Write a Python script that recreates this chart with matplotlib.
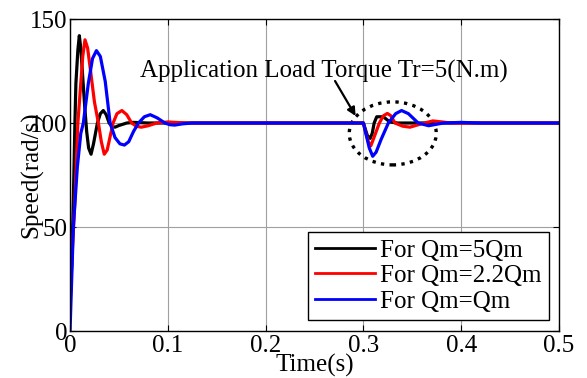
import numpy as np
import matplotlib
matplotlib.use('Agg')
import matplotlib.pyplot as plt
from matplotlib.patches import Ellipse

plt.rcParams['font.family'] = ['Liberation Serif', 'DejaVu Serif']

# speed response (time in s, speed in rad/s)
t_black = [0, 0.0017, 0.0034, 0.005, 0.006, 0.008, 0.0095, 0.011, 0.013, 0.015, 0.017,
           0.019, 0.0215, 0.024, 0.028, 0.031, 0.034, 0.037, 0.040, 0.043, 0.046,
           0.050, 0.058, 0.065, 0.08, 0.3, 0.302, 0.304, 0.3069, 0.309, 0.311,
           0.3136, 0.3204, 0.327, 0.335, 0.5]
v_black = [15, 31, 63, 100, 119, 135, 142, 136, 122, 108, 96,
           88, 85, 90, 100, 104.5, 106, 104, 100, 98.3, 98,
           98.8, 100, 100.3, 100, 100, 97, 94, 92.6, 95, 100,
           103, 103, 100.5, 100, 100]

t_red = [0, 0.0015, 0.005, 0.008, 0.011, 0.013, 0.0153, 0.018, 0.021, 0.025, 0.029,
         0.032, 0.035, 0.038, 0.044, 0.048, 0.053, 0.058, 0.063, 0.068, 0.073,
         0.080, 0.0886, 0.10, 0.12, 0.3, 0.302, 0.305, 0.3075, 0.310, 0.3163,
         0.3205, 0.3245, 0.328, 0.3323, 0.340, 0.3476, 0.36, 0.371, 0.39, 0.5]
v_red = [10, 31, 63, 100, 119, 132, 140, 136, 125, 110, 100,
         91, 85, 87, 100, 104.5, 106, 104, 100, 98.4, 98,
         98.7, 100, 100.5, 100, 100, 96, 91, 89, 92, 100,
         103.5, 104.6, 103.5, 100, 98.5, 98, 99.7, 101, 100, 100]

t_blue = [0, 0.0034, 0.0075, 0.011, 0.0136, 0.0187, 0.023, 0.027, 0.031, 0.036, 0.041,
          0.046, 0.051, 0.0556, 0.060, 0.065, 0.070, 0.076, 0.082, 0.089, 0.097,
          0.102, 0.107, 0.115, 0.125, 0.3, 0.303, 0.306, 0.3095, 0.313, 0.318,
          0.3255, 0.333, 0.339, 0.346, 0.356, 0.3667, 0.3817, 0.40, 0.42, 0.5]
v_blue = [0, 50, 79, 95, 100, 119, 131, 134.8, 132, 120, 100,
          93, 90, 89.4, 91, 96, 100, 103, 104, 102.5, 100,
          99.2, 99, 99.6, 100, 100, 94, 88, 84, 86, 92,
          100, 104.5, 106, 104.5, 100, 98.7, 100, 100.3, 100, 100]

fs = 18

fig = plt.figure(figsize=(5.87, 3.78), dpi=100)
ax = fig.add_axes([0.1193, 0.1243, 0.833, 0.8254])

ax.grid(True, color='#a0a0a0', linewidth=0.8)
ax.set_axisbelow(True)

ax.plot(t_black, v_black, color='black', lw=2.3, label='For Qm=5Qm')
ax.plot(t_red, v_red, color='red', lw=2.3, label='For Qm=2.2Qm')
ax.plot(t_blue, v_blue, color='blue', lw=2.3, label='For Qm=Qm')

ax.add_patch(Ellipse((0.33, 95), 0.089, 30.3, fill=False, ls=(0, (1, 1.6)),
                     lw=2.4, color='black'))
ax.text(0.0716, 125, 'Application Load Torque Tr=5(N.m)', fontsize=fs,
        va='center', ha='left')
ax.annotate('', xy=(0.292, 103.4), xytext=(0.271, 120.2),
            arrowprops=dict(arrowstyle='-|>', color='black', lw=1.6,
                            shrinkA=0, shrinkB=0, mutation_scale=12))

ax.set_xlim(0, 0.5)
ax.set_ylim(0, 150)
ax.set_xticks([0, 0.1, 0.2, 0.3, 0.4, 0.5])
ax.set_xticklabels(['0', '0.1', '0.2', '0.3', '0.4', '0.5'])
ax.set_yticks([0, 50, 100, 150])
ax.tick_params(direction='in', length=4, top=True, right=True, labelsize=fs,
               width=0.8)
ax.tick_params(axis='x', pad=3)
ax.tick_params(axis='y', pad=2)
for s in ax.spines.values():
    s.set_linewidth(1.0)

ax.set_xlabel('Time(s)', fontsize=fs, labelpad=-2)
ax.set_ylabel('Speed(rad/s)', fontsize=fs, labelpad=-10)

leg = ax.legend(loc='lower right', bbox_to_anchor=(0.98, 0.035), fontsize=fs,
                frameon=True, fancybox=False, edgecolor='black', framealpha=1,
                borderpad=0.3, labelspacing=0.12, handlelength=2.4,
                handletextpad=0.2, borderaxespad=0)
leg.get_frame().set_linewidth(1.0)
for l in leg.get_lines():
    l.set_linewidth(2.0)

fig.savefig('out.png', dpi=100)
